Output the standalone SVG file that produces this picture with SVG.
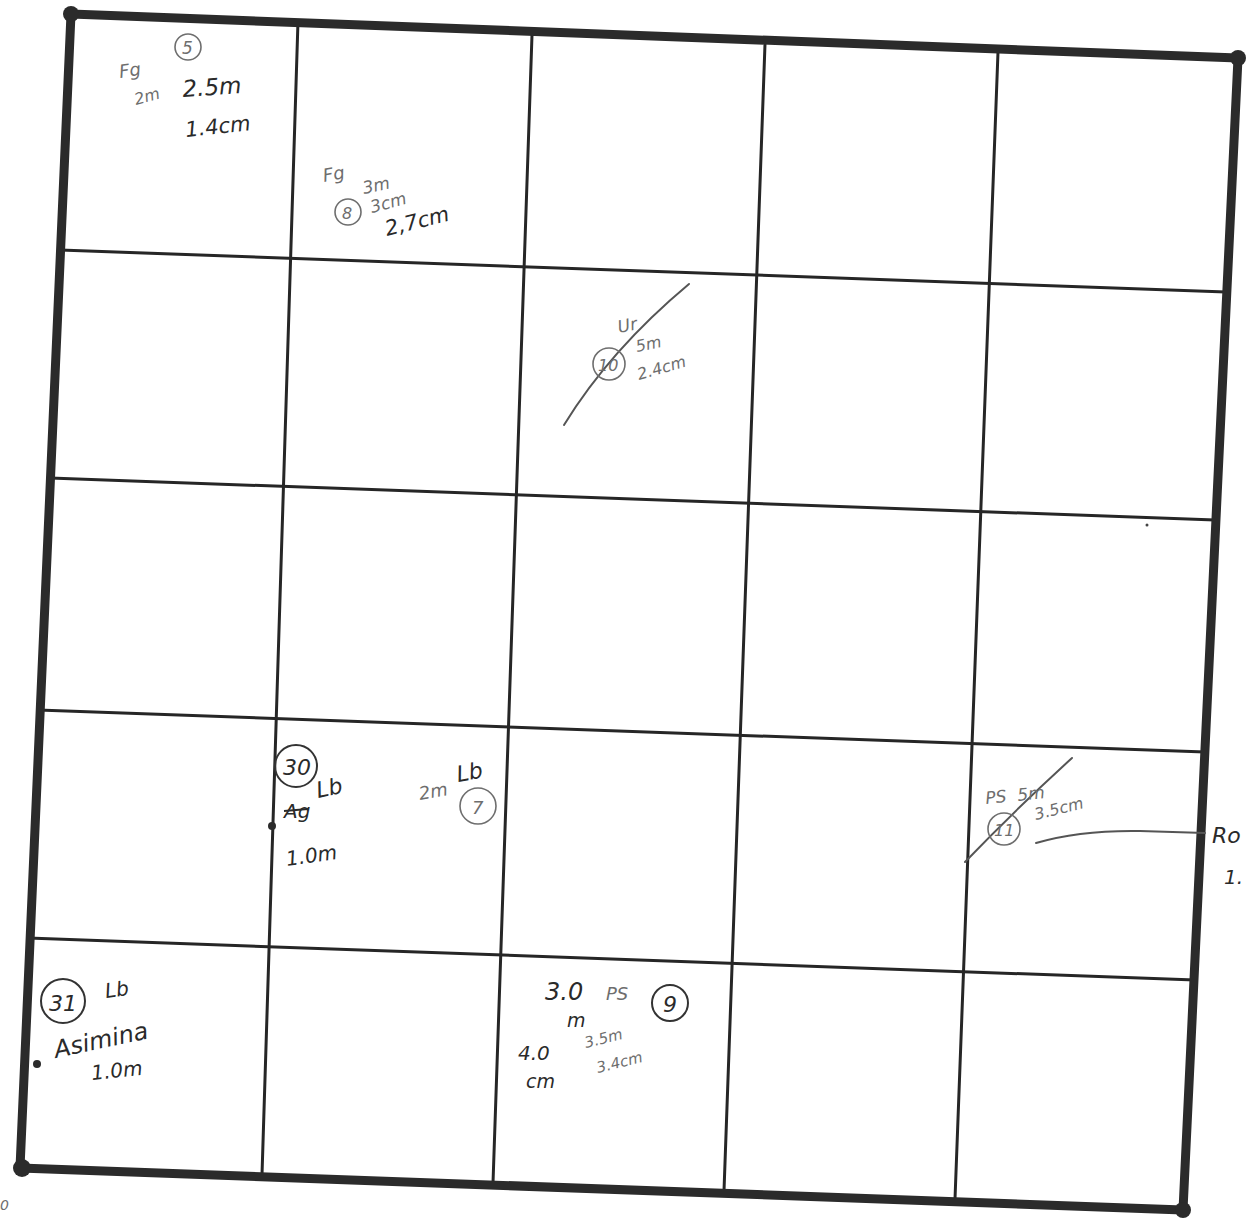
<svg xmlns="http://www.w3.org/2000/svg" width="1247" height="1226" viewBox="0 0 1247 1226">
<style>
.frame{fill:none;stroke:#2b2b2b;stroke-width:9;stroke-linejoin:round;stroke-linecap:round}
.grid{stroke:#262626;stroke-width:3;fill:none;stroke-linecap:round}
.pen{font-family:"DejaVu Sans",sans-serif;font-style:italic;fill:#2a2a2a}
.pencil{font-family:"DejaVu Sans",sans-serif;font-style:italic;fill:#6e6e6e}
.circD{fill:none;stroke:#333;stroke-width:2}
.circL{fill:none;stroke:#6e6e6e;stroke-width:1.6}
.mark{fill:none;stroke:#555;stroke-width:2;stroke-linecap:round}
.blob{fill:#2b2b2b}
</style>
<rect width="1247" height="1226" fill="#ffffff"/>
<g id="grid">
<line class="grid" x1="298" y1="21" x2="262" y2="1175"/>
<line class="grid" x1="532" y1="35" x2="493" y2="1183"/>
<line class="grid" x1="765" y1="44" x2="724" y2="1191"/>
<line class="grid" x1="998" y1="52" x2="955" y2="1199"/>
<line class="grid" x1="60" y1="250" x2="1226" y2="292"/>
<line class="grid" x1="50" y1="478" x2="1215" y2="520"/>
<line class="grid" x1="38" y1="710" x2="1205" y2="752"/>
<line class="grid" x1="28" y1="938" x2="1195" y2="980"/>
</g>
<g id="frame">
<polygon class="frame" points="71,14 1238,58 1183,1210 20,1168"/>
<circle class="blob" cx="71" cy="14" r="8"/>
<circle class="blob" cx="1238" cy="58" r="8"/>
<circle class="blob" cx="1183" cy="1210" r="8"/>
<circle class="blob" cx="22" cy="1168" r="9"/>
</g>
<g id="cell-5">
<text class="pencil" x="120" y="78" font-size="18" transform="rotate(-8 120 78)">Fg</text>
<circle class="circL" cx="188" cy="47" r="13"/>
<text class="pencil" x="182" y="54" font-size="17">5</text>
<text class="pencil" x="136" y="105" font-size="16" transform="rotate(-15 136 105)">2m</text>
<text class="pen" x="183" y="97" font-size="23" transform="rotate(-4 183 97)">2.5m</text>
<text class="pen" x="186" y="137" font-size="21" transform="rotate(-6 186 137)">1.4cm</text>
</g>
<g id="cell-8">
<text class="pencil" x="324" y="182" font-size="18" transform="rotate(-10 324 182)">Fg</text>
<circle class="circL" cx="348" cy="212" r="13"/>
<text class="pencil" x="342" y="219" font-size="16">8</text>
<text class="pencil" x="364" y="194" font-size="17" transform="rotate(-12 364 194)">3m</text>
<text class="pencil" x="372" y="213" font-size="17" transform="rotate(-15 372 213)">3cm</text>
<text class="pen" x="387" y="236" font-size="21" transform="rotate(-14 387 236)">2,7cm</text>
</g>
<g id="cell-10">
<path class="mark" d="M564,425 Q610,350 689,284"/>
<text class="pencil" x="619" y="333" font-size="17" transform="rotate(-12 619 333)">Ur</text>
<circle class="circL" cx="609" cy="364" r="16"/>
<text class="pencil" x="598" y="371" font-size="16">10</text>
<text class="pencil" x="637" y="352" font-size="16" transform="rotate(-12 637 352)">5m</text>
<text class="pencil" x="639" y="380" font-size="16" transform="rotate(-16 639 380)">2.4cm</text>
</g>
<g id="cell-30">
<circle class="circD" cx="296" cy="766" r="21"/>
<text class="pen" x="283" y="775" font-size="22">30</text>
<circle class="blob" cx="272" cy="826" r="4"/>
<text class="pen" x="284" y="818" font-size="20">Ag</text>
<line x1="284" y1="811" x2="308" y2="809" stroke="#2a2a2a" stroke-width="2"/>
<text class="pen" x="318" y="798" font-size="22" transform="rotate(-12 318 798)">Lb</text>
<text class="pen" x="287" y="866" font-size="20" transform="rotate(-8 287 866)">1.0m</text>
</g>
<g id="cell-7">
<text class="pencil" x="420" y="800" font-size="18" transform="rotate(-10 420 800)">2m</text>
<text class="pen" x="458" y="782" font-size="22" transform="rotate(-10 458 782)">Lb</text>
<circle class="circL" cx="478" cy="806" r="18"/>
<text class="pencil" x="472" y="814" font-size="18">7</text>
</g>
<g id="cell-11">
<path class="mark" d="M965,862 Q1015,810 1072,758"/>
<text class="pencil" x="986" y="804" font-size="17" transform="rotate(-6 986 804)">PS</text>
<text class="pencil" x="1018" y="801" font-size="17" transform="rotate(-6 1018 801)">5m</text>
<circle class="circL" cx="1004" cy="829" r="16"/>
<text class="pencil" x="994" y="836" font-size="16">11</text>
<text class="pencil" x="1036" y="820" font-size="16" transform="rotate(-14 1036 820)">3.5cm</text>
<path class="mark" d="M1036,843 Q1080,830 1140,831 L1205,833"/>
<text class="pen" x="1212" y="843" font-size="22">Ro</text>
<text class="pen" x="1224" y="884" font-size="20">1.</text>
<circle cx="1147" cy="525" r="1.5" fill="#444"/>
</g>
<g id="cell-31">
<circle class="circD" cx="63" cy="1001" r="22"/>
<text class="pen" x="49" y="1011" font-size="22">31</text>
<text class="pen" x="106" y="998" font-size="20" transform="rotate(-8 106 998)">Lb</text>
<circle class="blob" cx="37" cy="1064" r="4"/>
<text class="pen" x="56" y="1058" font-size="24" transform="rotate(-12 56 1058)">Asimina</text>
<text class="pen" x="92" y="1080" font-size="20" transform="rotate(-6 92 1080)">1.0m</text>
</g>
<g id="cell-9">
<text class="pen" x="545" y="1000" font-size="24">3.0</text>
<text class="pen" x="567" y="1027" font-size="19">m</text>
<text class="pencil" x="606" y="1000" font-size="18">PS</text>
<circle class="circD" cx="670" cy="1003" r="18"/>
<text class="pen" x="663" y="1012" font-size="22">9</text>
<text class="pencil" x="586" y="1048" font-size="15" transform="rotate(-14 586 1048)">3.5m</text>
<text class="pencil" x="598" y="1073" font-size="15" transform="rotate(-14 598 1073)">3.4cm</text>
<text class="pen" x="518" y="1060" font-size="20">4.0</text>
<text class="pen" x="526" y="1088" font-size="19">cm</text>
</g>
<text class="pencil" x="0" y="1210" font-size="14">0</text>
</svg>
